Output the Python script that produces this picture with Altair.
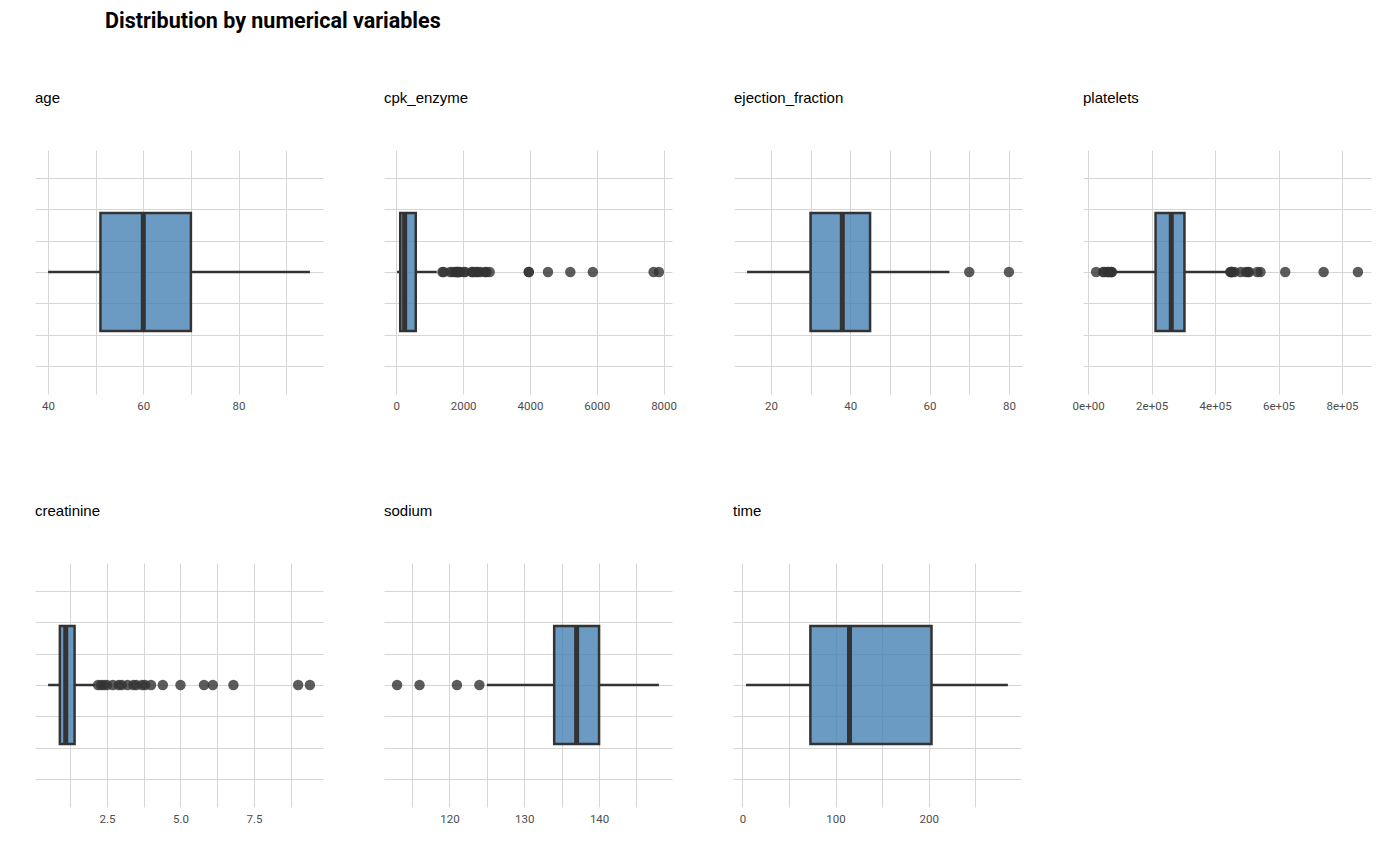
import pandas as pd
import altair as alt

# five-number summaries: whisker low, q1, median, q3, whisker high
age_stats = [40, 51, 60, 70, 95]
age_out = []
cpk_stats = [23, 116.5, 250, 582, 1211]
cpk_out = [1380, 1419, 1610, 1688, 1767, 1808, 1820, 1846, 1876, 1896, 2017, 2060,
           2261, 2281, 2334, 2413, 2442, 2522, 2656, 2695, 2794, 3964, 3966, 4540,
           5209, 5882, 7702, 7861]
ef_stats = [14, 30, 38, 45, 65]
ef_out = [70, 80]
plt_stats = [87000, 212500, 262000, 303500, 438000]
plt_out = [25100, 47000, 51000, 62000, 62000, 70000, 73000, 75000,
           448000, 451000, 451000, 454000, 461000, 481000, 497000, 504000, 507000,
           533000, 543000, 621000, 742000, 850000]
cre_stats = [0.5, 0.9, 1.1, 1.4, 2.1]
cre_out = [2.2, 2.3, 2.4, 2.5, 2.7, 2.9, 3.0, 3.2, 3.4, 3.5, 3.7, 3.8, 4.0,
           4.4, 5.0, 5.8, 6.1, 6.8, 9.0, 9.4]
sod_stats = [125, 134, 137, 140, 148]
sod_out = [113, 116, 121, 124]
time_stats = [4, 73, 115, 203, 285]
time_out = []

# axis breaks (major labelled, minor only gridline)
age_major = [40, 60, 80]; age_minor = [50, 70, 90]
cpk_major = [0, 2000, 4000, 6000, 8000]; cpk_minor = [1000, 3000, 5000, 7000]
ef_major = [20, 40, 60, 80]; ef_minor = [30, 50, 70]
plt_major = [0, 200000, 400000, 600000, 800000]; plt_minor = [100000, 300000, 500000, 700000]
plt_labels = ["0e+00", "2e+05", "4e+05", "6e+05", "8e+05"]
cre_major = [2.5, 5.0, 7.5]; cre_minor = [1.25, 3.75, 6.25, 8.75]
cre_labels = ["2.5", "5.0", "7.5"]
sod_major = [120, 130, 140]; sod_minor = [115, 125, 135, 145]
time_major = [0, 100, 200]; time_minor = [50, 150, 250]

y_grid = [-0.6, -0.4, -0.2, 0, 0.2, 0.4, 0.6]

LABEL_FONT = "Roboto, sans-serif"
W, H = 288, 244


def label_expr(majors, labels):
    expr = "''"
    for v, s in reversed(list(zip(majors, labels))):
        expr = f"datum.value == {v} ? '{s}' : " + expr
    return expr


def panel(name, stats, outliers, major, minor, labels=None):
    if labels is None:
        labels = [str(v) for v in major]
    lo, q1, med, q3, hi = stats
    allv = [lo, hi] + outliers
    span = max(allv) - min(allv)
    dom = [min(allv) - 0.05 * span, max(allv) + 0.05 * span]

    xs = alt.Scale(domain=dom, nice=False, zero=False)
    ys = alt.Scale(domain=[-0.775, 0.775], nice=False)
    xaxis = alt.Axis(values=sorted(major + minor), labelExpr=label_expr(major, labels),
                     title=None, grid=True, ticks=False, domain=False)
    yaxis = alt.Axis(values=y_grid, labels=False, title=None, grid=True,
                     ticks=False, domain=False)

    box_df = pd.DataFrame({"lo": [lo], "q1": [q1], "med": [med], "q3": [q3], "hi": [hi],
                           "b0": [-0.375], "b1": [0.375], "c": [0.0]})
    base = alt.Chart(box_df)

    wl = base.mark_rule(color="#333333", strokeWidth=2.5).encode(
        x=alt.X("lo:Q", scale=xs, axis=xaxis), x2="q1", y=alt.Y("c:Q", scale=ys, axis=yaxis))
    wh = base.mark_rule(color="#333333", strokeWidth=2.5).encode(
        x=alt.X("q3:Q", scale=xs), x2="hi", y=alt.Y("c:Q", scale=ys))
    box = base.mark_rect(fill="#4682B4", fillOpacity=0.8, stroke="#333333",
                         strokeWidth=2.5).encode(
        x=alt.X("q1:Q", scale=xs), x2="q3", y=alt.Y("b0:Q", scale=ys), y2="b1")
    medr = base.mark_rule(color="#333333", strokeWidth=5).encode(
        x=alt.X("med:Q", scale=xs), y=alt.Y("b0:Q", scale=ys), y2="b1")

    layers = [wl, wh, box, medr]
    if outliers:
        out_df = pd.DataFrame({"v": outliers, "c": [0.0] * len(outliers)})
        pts = alt.Chart(out_df).mark_circle(color="#333333", opacity=0.8, size=110).encode(
            x=alt.X("v:Q", scale=xs), y=alt.Y("c:Q", scale=ys))
        layers.append(pts)

    return alt.layer(*layers).properties(
        width=W, height=H,
        title=alt.TitleParams(name, anchor="start", frame="group", fontSize=15,
                              font="Liberation Sans", fontWeight="normal",
                              color="black", offset=44))


p_age = panel("age", age_stats, age_out, age_major, age_minor)
p_cpk = panel("cpk_enzyme", cpk_stats, cpk_out, cpk_major, cpk_minor)
p_ef = panel("ejection_fraction", ef_stats, ef_out, ef_major, ef_minor)
p_plt = panel("platelets", plt_stats, plt_out, plt_major, plt_minor, plt_labels)
p_cre = panel("creatinine", cre_stats, cre_out, cre_major, cre_minor, cre_labels)
p_sod = panel("sodium", sod_stats, sod_out, sod_major, sod_minor)
p_time = panel("time", time_stats, time_out, time_major, time_minor)

# gaps allow for tick labels that stick out past the plot edges
row1 = alt.hconcat(alt.hconcat(alt.hconcat(p_age, p_cpk, spacing=61), p_ef, spacing=57),
                   p_plt, spacing=50)
row2 = alt.hconcat(alt.hconcat(p_cre, p_sod, spacing=61), p_time, spacing=61)

chart = alt.vconcat(row1, row2, spacing=92).properties(
    title=alt.TitleParams("Distribution by numerical variables", anchor="start",
                          fontSize=21.5, font="Roboto, sans-serif",
                          fontWeight="bold", color="black", dx=70, offset=59),
    padding={"left": 27, "top": 2, "right": 5, "bottom": 5},
).configure_view(stroke=None).configure_axis(
    labelFont=LABEL_FONT, labelFontSize=11.5, labelColor="#4d4d4d", labelPadding=6,
    gridColor="#d6d6d6", gridWidth=1,
)

chart.save("out.html", embed_options={"renderer": "svg", "actions": False})
